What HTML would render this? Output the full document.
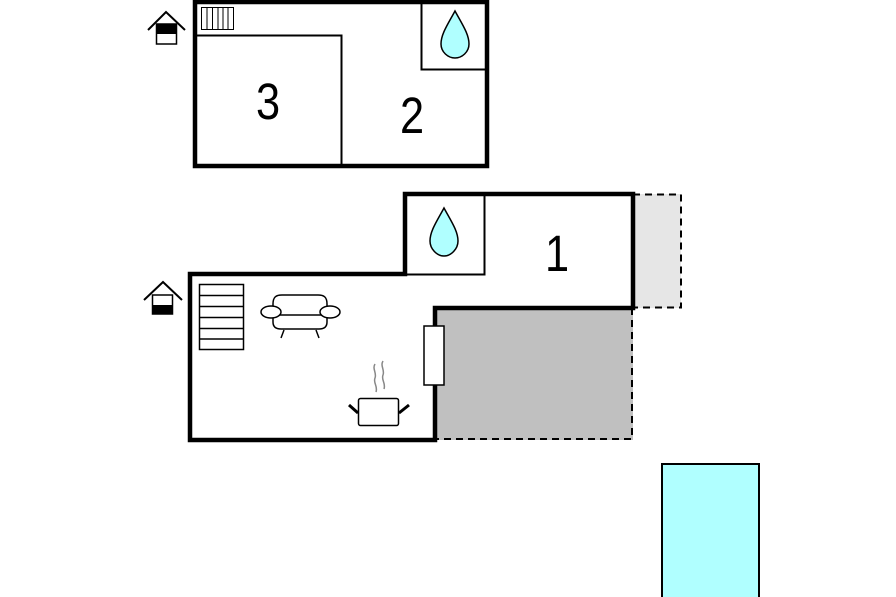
<!DOCTYPE html>
<html><head><meta charset="utf-8"><style>html,body{margin:0;padding:0;background:#fff}svg{display:block}</style></head>
<body>
<svg width="896" height="597" viewBox="0 0 896 597" xmlns="http://www.w3.org/2000/svg" font-family="Liberation Sans, sans-serif">
<!-- top building -->
<rect x="195" y="2" width="292" height="164" fill="#fff" stroke="#000" stroke-width="4.5"/>
<polyline points="197,35.5 341.5,35.5 341.5,165" fill="none" stroke="#000" stroke-width="2"/>
<polyline points="421.5,3 421.5,69.5 486,69.5" fill="none" stroke="#000" stroke-width="2"/>
<rect x="201.5" y="7.5" width="32" height="22" fill="#fff" stroke="#000" stroke-width="1"/>
<g stroke="#000" stroke-width="1"><line x1="207" y1="8" x2="207" y2="29"/><line x1="212.5" y1="8" x2="212.5" y2="29"/><line x1="218" y1="8" x2="218" y2="29"/><line x1="223" y1="8" x2="223" y2="29"/><line x1="228" y1="8" x2="228" y2="29"/></g>
<path d="M455,11 C448,24 441,34 441,44 C441,52 448,58 455,58 C462,58 469,52 469,44 C469,34 462,24 455,11 Z" fill="#b0ffff" stroke="#000" stroke-width="1.5"/>
<text transform="translate(268,119) scale(0.85,1)" font-size="51" text-anchor="middle">3</text>
<text transform="translate(412,133) scale(0.85,1)" font-size="51" text-anchor="middle">2</text>
<!-- house icon top -->
<polyline points="148,30 166,12 185,30" fill="none" stroke="#000" stroke-width="2"/>
<rect x="156.5" y="24" width="20" height="20" fill="#fff" stroke="#000" stroke-width="1.5"/>
<rect x="156.5" y="24" width="20" height="10" fill="#000"/>
<!-- lower building -->
<rect x="633" y="194" width="48" height="114" fill="#e6e6e6"/>
<polyline points="633,194.5 681,194.5 681,307.5 633,307.5" fill="none" stroke="#000" stroke-width="2" stroke-dasharray="7,5"/>
<rect x="435" y="308" width="198" height="132" fill="#c0c0c0"/>
<polyline points="632,308 632,439 435,439" fill="none" stroke="#000" stroke-width="2" stroke-dasharray="7,5"/>
<rect x="191" y="276" width="242" height="162" fill="#fff"/>
<rect x="407" y="196" width="224" height="110" fill="#fff"/>
<polygon points="190,274 405,274 405,194 633,194 633,308 435,308 435,440 190,440" fill="none" stroke="#000" stroke-width="4.5"/>
<polyline points="405,274.5 484.5,274.5 484.5,195" fill="none" stroke="#000" stroke-width="2"/>
<path d="M444,208 C437,221 430,231 430,241 C430,249 437,256 444,256 C451,256 458,249 458,241 C458,231 451,221 444,208 Z" fill="#b0ffff" stroke="#000" stroke-width="1.5"/>
<text transform="translate(557,271) scale(0.85,1)" font-size="51" text-anchor="middle">1</text>
<!-- window -->
<rect x="424" y="326" width="20" height="59" fill="#fff" stroke="#000" stroke-width="1.5"/>
<!-- stairs -->
<rect x="199.5" y="284.5" width="44" height="65" fill="#fff" stroke="#000" stroke-width="1.5"/>
<g stroke="#000" stroke-width="1.5"><line x1="200" y1="295.5" x2="243" y2="295.5"/><line x1="200" y1="306.5" x2="243" y2="306.5"/><line x1="200" y1="317.5" x2="243" y2="317.5"/><line x1="200" y1="328.5" x2="243" y2="328.5"/><line x1="200" y1="339" x2="243" y2="339"/></g>
<!-- sofa -->
<g fill="#fff" stroke="#000" stroke-width="1.5">
<path d="M273,304 C273,297 276,295 282,295 L318,295 C324,295 327,297 327,304 L327,322 C327,327 324,329 319,329 L281,329 C276,329 273,327 273,322 Z"/>
<line x1="274" y1="315" x2="326" y2="315"/>
<ellipse cx="271" cy="312" rx="10" ry="6"/>
<ellipse cx="330" cy="312" rx="10" ry="6"/>
<line x1="284" y1="330" x2="281" y2="338"/><line x1="316" y1="330" x2="319" y2="338"/>
</g>
<!-- pot -->
<path d="M375,364 C372,369 377,373 375,378 C373,383 378,386 376,392" fill="none" stroke="#888" stroke-width="1.5"/>
<path d="M383,361 C380,366 385,370 383,375 C381,380 386,383 384,389" fill="none" stroke="#888" stroke-width="1.5"/>
<rect x="358.5" y="398.5" width="40" height="27" rx="2" fill="#fff" stroke="#000" stroke-width="1.5"/>
<line x1="349" y1="405" x2="358" y2="413" stroke="#000" stroke-width="3"/>
<line x1="409" y1="405" x2="399" y2="413" stroke="#000" stroke-width="3"/>
<!-- house icon lower -->
<polyline points="144,300 163,282 182,300" fill="none" stroke="#000" stroke-width="2"/>
<rect x="152.5" y="295" width="20" height="19" fill="#fff" stroke="#000" stroke-width="1.5"/>
<rect x="152.5" y="305" width="20" height="9.5" fill="#000"/>
<!-- pool -->
<rect x="662" y="464" width="97" height="134" fill="#b0ffff" stroke="#000" stroke-width="2"/>
</svg>
</body></html>
